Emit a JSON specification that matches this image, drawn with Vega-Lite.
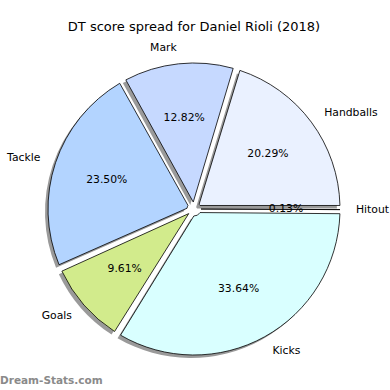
{
  "$schema": "https://vega.github.io/schema/vega-lite/v6.json",
  "width": 388,
  "height": 362,
  "autosize": {"type": "none"},
  "padding": {"left": 0, "top": 28, "right": 2, "bottom": 0},
  "background": "#ffffff",
  "title": {"text": "DT score spread for Daniel Rioli (2018)", "font": "DejaVu Sans", "fontSize": 13, "fontWeight": "normal", "color": "#000000", "anchor": "middle", "offset": -6},
  "config": {"view": {"stroke": null}},
  "data": {"values": [
    {"stat": "Handballs", "pct": 20.29, "pctLabel": "20.29%", "i": 1},
    {"stat": "Mark", "pct": 12.82, "pctLabel": "12.82%", "i": 2},
    {"stat": "Tackle", "pct": 23.50, "pctLabel": "23.50%", "i": 3},
    {"stat": "Goals", "pct": 9.61, "pctLabel": "9.61%", "i": 4},
    {"stat": "Kicks", "pct": 33.64, "pctLabel": "33.64%", "i": 5},
    {"stat": "Hitout", "pct": 0.13, "pctLabel": "0.13%", "i": 6}
  ]},
  "layer": [
    {
      "mark": {"type": "arc", "outerRadius": 146, "innerRadius": 7, "padAngle": 0.048, "fill": "#9a9a9a", "xOffset": -3, "yOffset": 3},
      "encoding": {
        "theta": {"field": "pct", "type": "quantitative", "stack": true, "scale": {"range": [1.5707963, -4.7123890]}},
        "order": {"field": "i", "type": "quantitative"}
      }
    },
    {
      "mark": {"type": "arc", "outerRadius": 146, "innerRadius": 7, "padAngle": 0.048, "stroke": "#000000", "strokeWidth": 0.8},
      "encoding": {
        "theta": {"field": "pct", "type": "quantitative", "stack": true, "scale": {"range": [1.5707963, -4.7123890]}},
        "order": {"field": "i", "type": "quantitative"},
        "color": {"field": "stat", "type": "nominal", "legend": null,
          "scale": {"domain": ["Handballs", "Mark", "Tackle", "Goals", "Kicks", "Hitout"],
                    "range": ["#eaf1ff", "#c6d9ff", "#b3d4ff", "#d2eb8c", "#d9ffff", "#ffffff"]}}
      }
    },
    {
      "mark": {"type": "text", "radius": 162, "font": "DejaVu Sans", "fontSize": 10.8, "color": "#000000", "baseline": "middle",
        "align": {"expr": "indexof(['Handballs','Kicks','Hitout'], datum.stat) >= 0 ? 'left' : 'right'"}},
      "encoding": {
        "theta": {"field": "pct", "type": "quantitative", "stack": true, "scale": {"range": [1.5707963, -4.7123890]}},
        "order": {"field": "i", "type": "quantitative"},
        "text": {"field": "stat", "type": "nominal"}
      }
    },
    {
      "mark": {"type": "text", "radius": 92, "font": "DejaVu Sans", "fontSize": 10.8, "color": "#000000", "baseline": "middle", "align": "center"},
      "encoding": {
        "theta": {"field": "pct", "type": "quantitative", "stack": true, "scale": {"range": [1.5707963, -4.7123890]}},
        "order": {"field": "i", "type": "quantitative"},
        "text": {"field": "pctLabel", "type": "nominal"}
      }
    },
    {
      "data": {"values": [{"t": "Dream-Stats.com"}]},
      "mark": {"type": "text", "x": 0, "y": {"expr": "height - 6"}, "align": "left", "baseline": "alphabetic", "font": "DejaVu Sans", "fontSize": 10.5, "fontWeight": "bold", "color": "#8a8a8a"},
      "encoding": {"text": {"field": "t", "type": "nominal"}}
    }
  ]
}
